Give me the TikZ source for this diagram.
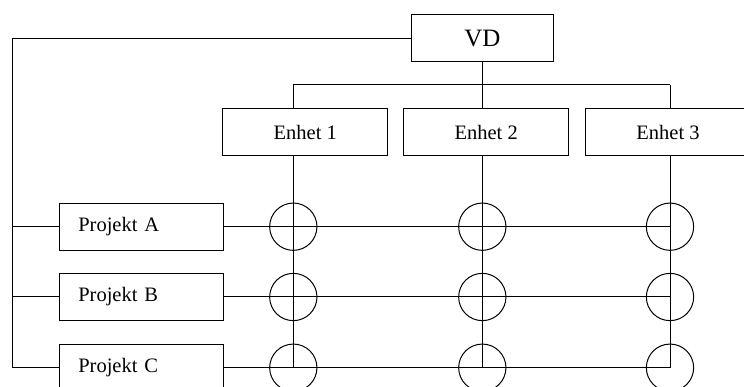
\documentclass[tikz,border=0pt]{standalone}
\usepackage{fontspec}
\setmainfont{Liberation Serif}
\begin{document}
\begin{tikzpicture}[x=1pt,y=-1pt,line width=1pt,
  unitbox/.style={draw,minimum width=165.3pt,minimum height=47pt,inner sep=0pt,font=\fontsize{20.5}{24}\selectfont},
  projbox/.style={draw,text width=126pt,inner xsep=19pt,inner ysep=0pt,minimum height=47.3pt,align=left,font=\fontsize{20.5}{24}\selectfont},
  cross/.style={draw,circle,minimum size=47.3pt,inner sep=0pt}]
\useasboundingbox (0,0) rectangle (744,387);
\clip (0,0) rectangle (744,387);
\node[draw,minimum width=142pt,minimum height=47.3pt,inner sep=0pt,font=\fontsize{25}{30}\selectfont] (vd) at (482.3,38.3) {VD};
\node[unitbox] (e1) at (305.3,132.5) {Enhet 1};
\node[unitbox] (e2) at (486.2,132.5) {Enhet 2};
\node[unitbox] (e3) at (668,132.5) {Enhet 3};
\node[projbox] (pa) at (141.3,226.7) {Projekt A};
\node[projbox] (pb) at (141.3,297) {Projekt B};
\node[projbox] (pc) at (141.3,367.7) {Projekt C};
\coordinate (u1) at (293.3,85);
\coordinate (u2) at (482.3,85);
\coordinate (u3) at (670,85);
\coordinate (left) at (12,367.7);
% top tree
\draw (vd.south) -- (u2);
\draw (u1) -- (u3);
\draw (u1) -- (u1 |- e1.north);
\draw (u2) -- (u2 |- e2.north);
\draw (u3) -- (u3 |- e3.north);
% outer line
\draw (vd.west) -| (left);
\draw (left |- pa.west) -- (pa.west);
\draw (left |- pb.west) -- (pb.west);
\draw (left) -- (pc.west);
% circles
\foreach \u/\n in {u1/1,u2/2,u3/3}{
  \node[cross] (ca\n) at (\u |- pa.east) {};
  \node[cross] (cb\n) at (\u |- pb.east) {};
  \node[cross] (cc\n) at (\u |- pc.east) {};
}
% grid lines
\draw (pa.east) -- (u3 |- pa.east);
\draw (pb.east) -- (u3 |- pb.east);
\draw (pc.east) -- (u3 |- pc.east);
\draw (u1 |- e1.south) -- (u1 |- pc.east);
\draw (u2 |- e2.south) -- (u2 |- pc.east);
\draw (u3 |- e3.south) -- (u3 |- pc.east);
\end{tikzpicture}
\end{document}
